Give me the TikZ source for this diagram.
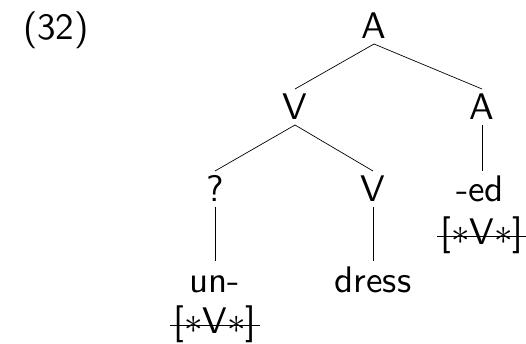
\documentclass[tikz,border=0pt]{standalone}
\newcommand\bigtxt[1]{\scalebox{3.7}{\fontsize{10}{12}\selectfont\sffamily #1}}
\begin{document}
\begin{tikzpicture}[x=1pt,y=-1pt,
  every node/.style={inner sep=0pt, outer sep=0pt},
  treenode/.style={anchor=base, text height=31pt, text depth=5pt},
  featnode/.style={anchor=base},
  branch/.style={line width=0.7pt},
  strike/.style={line width=1.6pt}]
\useasboundingbox (0,0) rectangle (526,344);
\node[anchor=base west] (num) at (23,40) {\bigtxt{(32)}};
\node[treenode] (A1) at (374,39) {\bigtxt{A}};
\node[treenode] (V2) at (295,120) {\bigtxt{V}};
\node[treenode] (A2) at (482,120) {\bigtxt{A}};
\node[treenode] (Q) at (215,202) {\bigtxt{?}};
\node[treenode] (V3) at (373,202) {\bigtxt{V}};
\node[treenode] (ed) at (480,202) {\bigtxt{-ed}};
\node[treenode] (un) at (215,292) {\bigtxt{un-}};
\node[treenode] (dress) at (373,292) {\bigtxt{dress}};
\node[featnode] (f1) at (215,333) {\bigtxt{[$*$V$*$]}};
\node[featnode] (f2) at (482,244) {\bigtxt{[$*$V$*$]}};
\draw[branch] (A1.south) -- (V2.north);
\draw[branch] (A1.south) -- (A2.north);
\draw[branch] (V2.south) -- (Q.north);
\draw[branch] (V2.south) -- (V3.north);
\draw[branch] (A2.south) -- (A2.south |- ed.north);
\draw[branch] (Q.south) -- (Q.south |- un.north);
\draw[branch] (V3.south) -- (V3.south |- dress.north);
\draw[strike] ([xshift=-3pt,yshift=7.5pt]f1.base west) -- ([xshift=3pt,yshift=7.5pt]f1.base east);
\draw[strike] ([xshift=-3pt,yshift=7.5pt]f2.base west) -- ([xshift=3pt,yshift=7.5pt]f2.base east);
\end{tikzpicture}
\end{document}
